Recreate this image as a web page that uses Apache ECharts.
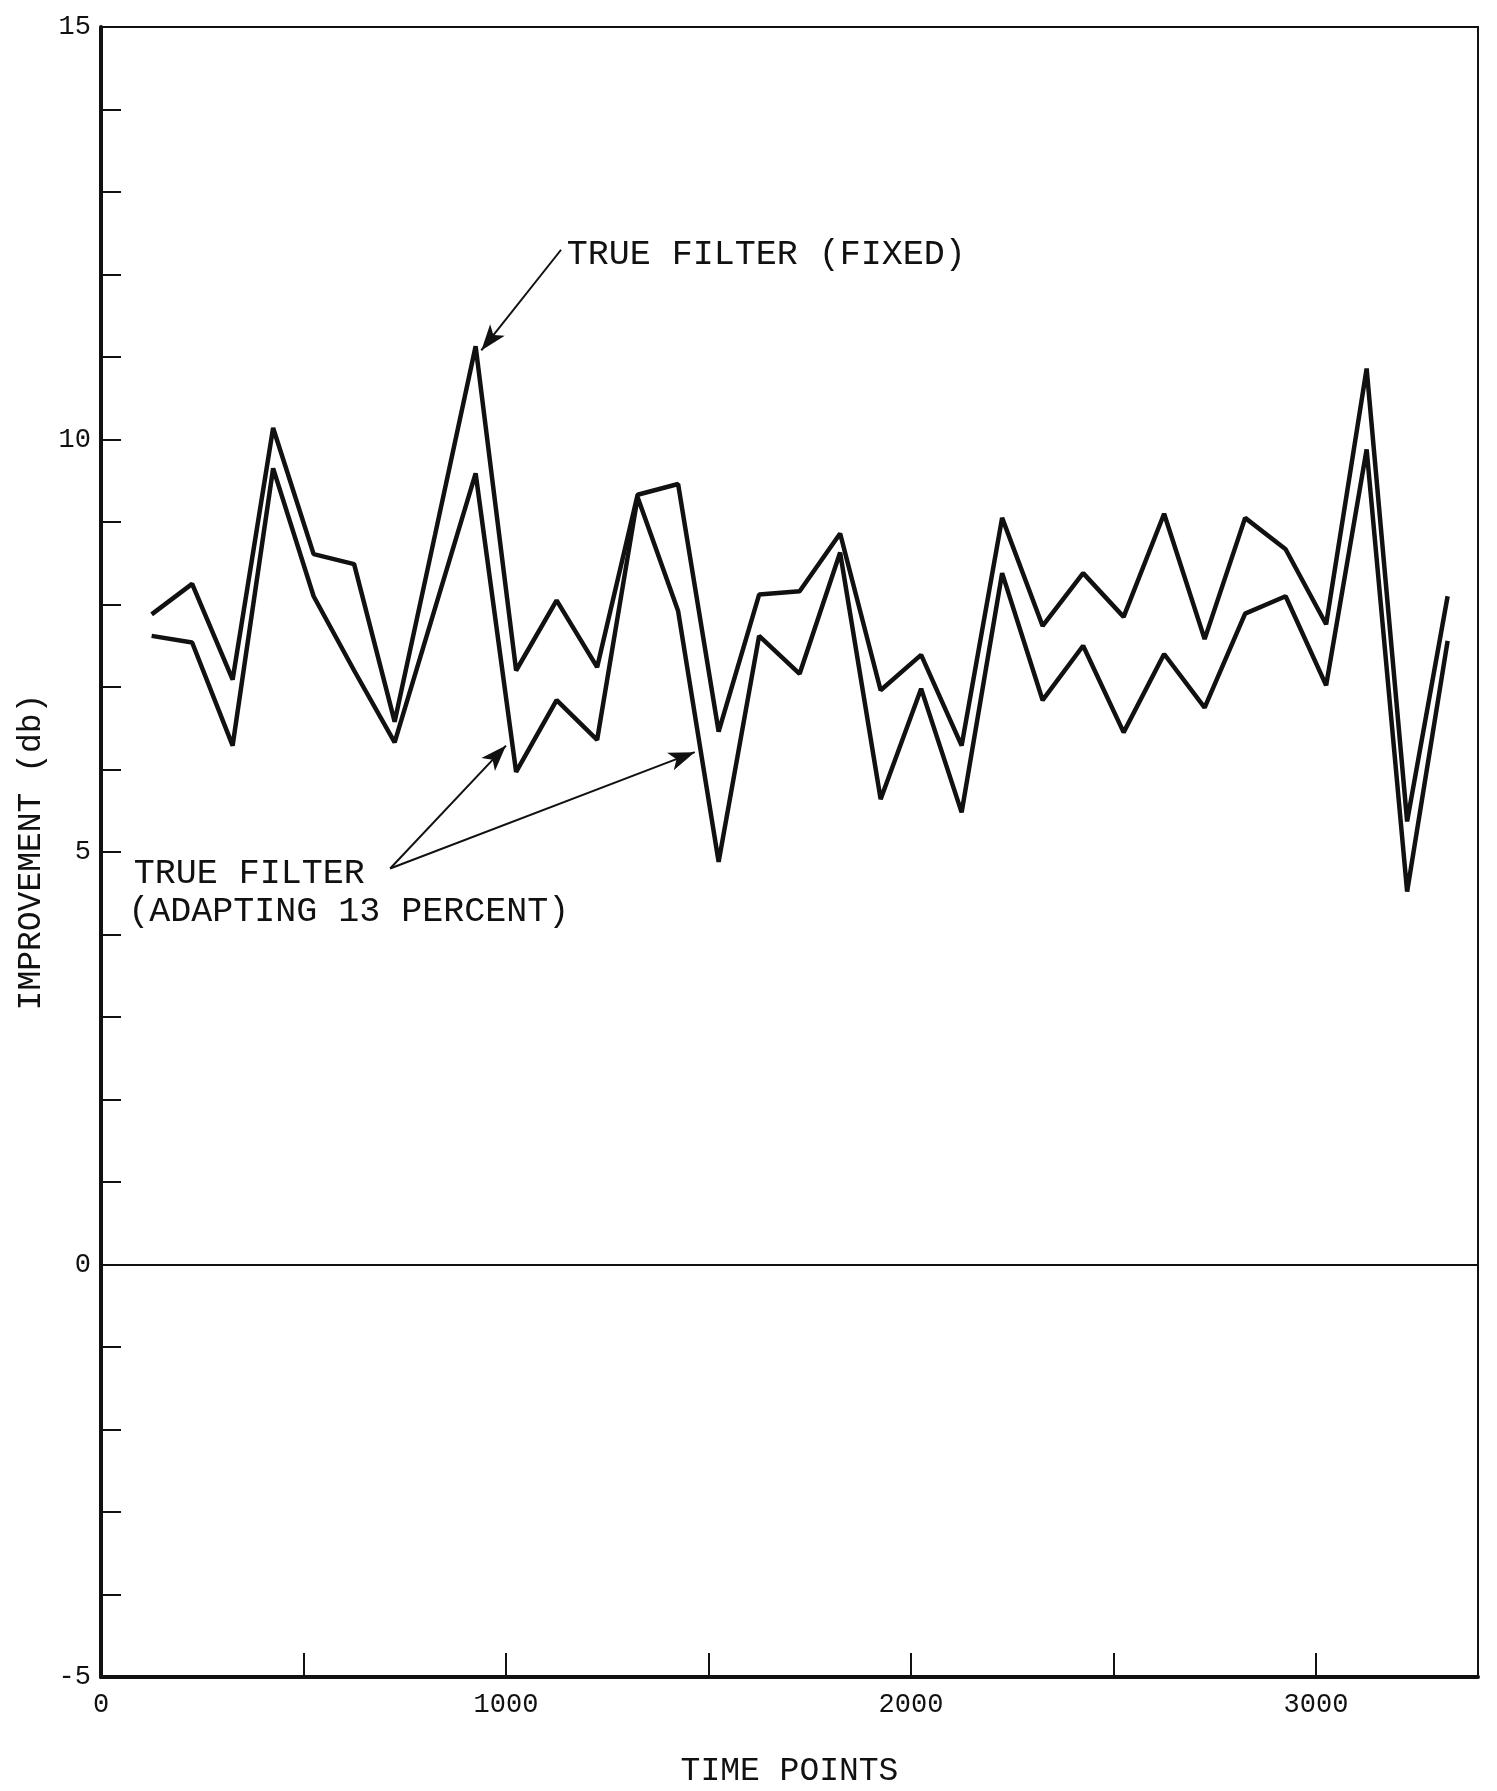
<!DOCTYPE html>
<html>
<head>
<meta charset="utf-8">
<script src="https://cdn.jsdelivr.net/npm/echarts@6/dist/echarts.min.js"></script>
<style>
html,body{margin:0;padding:0;background:#fff;}
#c{width:1497px;height:1791px;}
</style>
</head>
<body>
<div id="c"></div>
<script>
const timePoints = [125,225,325,425,525,625,725,825,925,1025,1125,1225,1325,1425,1525,1625,1725,1825,1925,2025,2125,2225,2325,2425,2525,2625,2725,2825,2925,3025,3125,3225,3325];
const fixedFilter = [7.88,8.25,7.09,10.14,8.61,8.49,6.58,8.85,11.13,7.2,8.05,7.24,9.33,9.46,6.46,8.12,8.16,8.86,6.96,7.39,6.29,9.05,7.74,8.38,7.85,9.1,7.58,9.05,8.67,7.76,10.86,5.37,8.1];
const adaptingFilter = [7.62,7.54,6.29,9.65,8.1,7.2,6.33,7.96,9.59,5.97,6.84,6.36,9.3,7.92,4.88,7.62,7.16,8.63,5.64,6.98,5.48,8.38,6.84,7.5,6.45,7.4,6.75,7.89,8.1,7.02,9.88,4.52,7.56];
const xTickValues = [500,1000,1500,2000,2500,3000];
const xLabelValues = [0,1000,2000,3000];
const yLabelValues = [-5,0,5,10,15];

const FONT = '"Liberation Mono", "DejaVu Sans Mono", monospace';
const INK = '#111';

const chart = echarts.init(document.getElementById('c'), null, {renderer:'canvas'});
const pair = (xs, ys) => xs.map((x,i)=>[x, ys[i]]);

const option = {
  backgroundColor:'#fff',
  animation:false,
  grid:{left:101, top:27, width:1377, height:1650, show:true, borderColor:INK, borderWidth:2, backgroundColor:'transparent', outerBoundsMode:'none', containLabel:false},
  xAxis:{
    type:'value', min:0, max:3400, interval:500,
    name:'TIME POINTS', nameLocation:'middle', nameGap:78,
    nameTextStyle:{fontFamily:FONT, fontSize:33, color:INK},
    axisLine:{show:true, onZero:false, lineStyle:{color:INK, width:4}},
    axisTick:{show:true, inside:true, length:24, customValues:xTickValues, lineStyle:{color:INK, width:2}},
    axisLabel:{customValues:xLabelValues, formatter:(v)=>String(v), fontFamily:FONT, fontSize:27, color:INK, margin:14},
    splitLine:{show:false}
  },
  yAxis:{
    type:'value', min:-5, max:15, interval:1,
    name:'IMPROVEMENT (db)', nameLocation:'middle', nameGap:53, nameRotate:90,
    nameTextStyle:{fontFamily:FONT, fontSize:33, color:INK},
    axisLine:{show:true, onZero:false, lineStyle:{color:INK, width:4}},
    axisTick:{show:true, inside:true, length:20, lineStyle:{color:INK, width:2}},
    axisLabel:{customValues:yLabelValues, formatter:(v)=>String(v), fontFamily:FONT, fontSize:27, color:INK, margin:10},
    splitLine:{show:false}
  },
  series:[
    {
      name:'TRUE FILTER (FIXED)', type:'line', data:pair(timePoints, fixedFilter),
      showSymbol:false, symbol:'none', lineStyle:{color:INK, width:4.5}, z:3,
      markLine:{
        silent:true, animation:false,
        lineStyle:{color:INK, width:2, type:'solid'},
        label:{show:false},
        symbolSize:[14,26],
        data:[
          [{coord:[1136,12.30], symbol:'none'},{coord:[939,11.08], symbol:'arrow'}],
          [{coord:[714,4.80], symbol:'none'},{coord:[1000,6.29], symbol:'arrow'}],
          [{coord:[714,4.80], symbol:'none'},{coord:[1466,6.21], symbol:'arrow'}],
          [{coord:[0,0], symbol:'none'},{coord:[3400,0], symbol:'none', lineStyle:{width:2}}]
        ]
      },
      markPoint:{
        silent:true, symbol:'circle', symbolSize:0,
        label:{show:true, position:'right', distance:0, fontFamily:FONT, fontSize:35, color:INK},
        data:[
          {coord:[1150,12.24], value:'TRUE FILTER (FIXED)', label:{formatter:'TRUE FILTER (FIXED)'}},
          {coord:[81,4.74], value:'TRUE FILTER', label:{formatter:'TRUE FILTER'}},
          {coord:[67,4.27], value:'(ADAPTING 13 PERCENT)', label:{formatter:'(ADAPTING 13 PERCENT)'}}
        ]
      }
    },
    {
      name:'TRUE FILTER (ADAPTING 13 PERCENT)', type:'line', data:pair(timePoints, adaptingFilter),
      showSymbol:false, symbol:'none', lineStyle:{color:INK, width:4.5}, z:3
    }
  ]
};
chart.setOption(option);
</script>
</body>
</html>
